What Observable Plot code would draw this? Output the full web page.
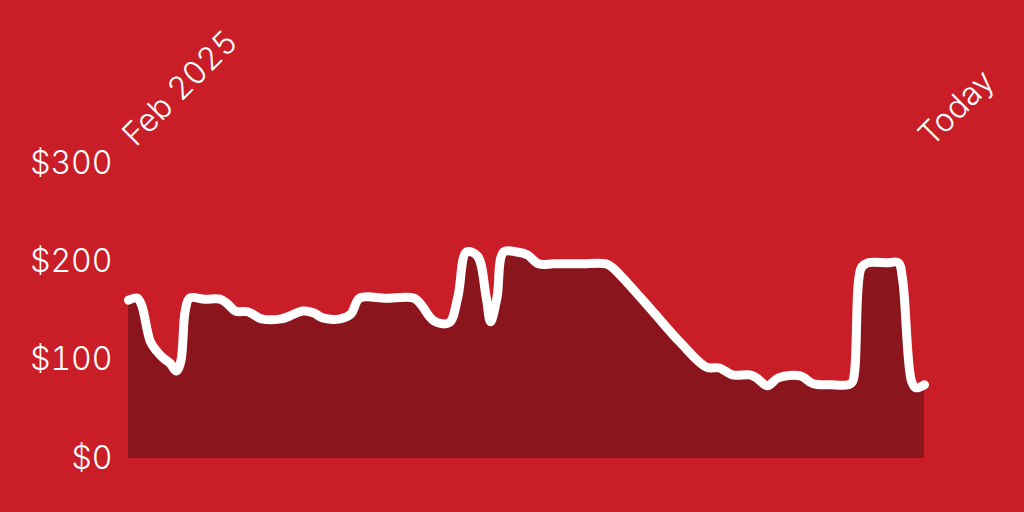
<!DOCTYPE html>
<html><head><meta charset="utf-8">
<script src="https://cdn.jsdelivr.net/npm/d3@7"></script>
<script src="https://cdn.jsdelivr.net/npm/@observablehq/plot@0.6"></script>
<style>html,body{margin:0;padding:0;background:#C91D27;overflow:hidden;}</style>
</head><body><div id="chart"></div>
<script>
const days = [0,4,6,10,13,16,19,22,24,26,28,35,42,45,49,55,61,70,74,80,85,89,97,102,106,118,131,134,140,147,151,155,160,164,166,169,172,178,183,188,195,207,219,222,229,241,253,265,271,277,285,288,293,298,308,314,322,330,332,336,339,348,353,355,359,361,365];
const prices = [161,163,156,119,109,102,97,89,99,150,163,162,162,158,150,149,142,142,145,150,148,143,142,147,163,163,163,157,140,138,164,210,206,164,139,164,210,210,207,198,198,198,198,194,178,148,118,93,92,85,85,82,74,82,84,76,75,75,78,194,199,199,199,181,79,72,75];
const yTicks = [0,100,200,300];
const xTicks = [0,365];
const xTickLabels = ["Feb 2025","Today"];

const data = days.map((d,i)=>({day:d, price:prices[i]}));

const chart = Plot.plot({
  width:1024, height:512,
  marginLeft:128, marginRight:100, marginTop:163, marginBottom:54,
  style:{background:"#C91D27", color:"white", fontFamily:"Inter, 'Liberation Sans', sans-serif", fontSize:"32px", fontWeight:300},
  x:{domain:[0,365]},
  y:{domain:[0,300]},
  marks:[
    Plot.areaY(data,{x:"day",y:"price",fill:"#8B151D",curve:"catmull-rom"}),
    Plot.lineY(data,{x:"day",y:"price",stroke:"white",strokeWidth:9,curve:"catmull-rom",strokeLinecap:"round",strokeLinejoin:"round"}),
    Plot.axisY({ticks:yTicks, tickFormat:d=>"$"+d, tickSize:0, tickPadding:16, label:null, fontSize:32}),
    Plot.axisX({anchor:"top", ticks:xTicks, tickFormat:(d,i)=>xTickLabels[i], tickRotate:-45, tickSize:0, tickPadding:23, textAnchor:"start", label:null, fontSize:32})
  ]
});
document.getElementById("chart").append(chart);
</script>
</body></html>
